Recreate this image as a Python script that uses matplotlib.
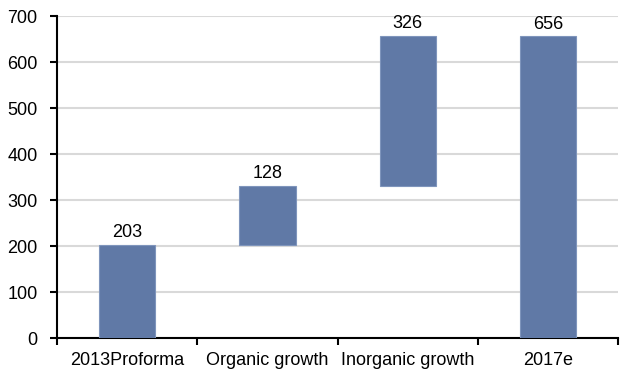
import matplotlib
matplotlib.use('Agg')
import matplotlib.pyplot as plt
import numpy as np

# waterfall data
categories = ["2013Proforma", "Organic growth", "Inorganic growth", "2017e"]
values = [203, 128, 326, 656]
is_total = [True, False, False, True]

plt.rcParams['font.family'] = ['Liberation Sans', 'DejaVu Sans']
fs = 13

# bottoms: totals start at zero, steps start at the running sum
bottoms = []
running = 0
for v, tot in zip(values, is_total):
    if tot:
        bottoms.append(0)
        running = v
    else:
        bottoms.append(running)
        running += v

fig = plt.figure(figsize=(6.2, 3.76), dpi=100)
ax = fig.add_axes([0.092, 0.101, 0.905, 0.856])

x = np.arange(len(categories))
ax.bar(x, values, bottom=bottoms, width=0.4, color='#6079A6',
       edgecolor='#7F95BC', linewidth=0.8, zorder=3)

for xi, b, v in zip(x, bottoms, values):
    ax.annotate(str(v), (xi, b + v), xytext=(0, 2.5), textcoords='offset points',
                ha='center', va='bottom', fontsize=fs, zorder=4)

ax.set_xlim(-0.5, len(categories) - 0.5)
ax.set_ylim(0, 700)
ax.set_yticks(np.arange(0, 701, 100))
ax.yaxis.grid(True, color='#D9D9D9', linewidth=1.5, zorder=0)
ax.set_axisbelow(True)

ax.set_xticks(x)
ax.set_xticklabels(categories)
ax.set_xticks(np.arange(-0.5, len(categories), 1.0), minor=True)
ax.tick_params(axis='x', which='major', length=0, pad=10, labelsize=fs)
ax.tick_params(axis='x', which='minor', length=5, width=1.5, direction='out')
ax.tick_params(axis='y', length=5, width=1.5, direction='out', pad=9, labelsize=fs)

for side in ['top', 'right']:
    ax.spines[side].set_visible(False)
for side in ['left', 'bottom']:
    ax.spines[side].set_linewidth(1.5)
    ax.spines[side].set_color('black')

fig.savefig('out.png', dpi=100)
plt.close(fig)
